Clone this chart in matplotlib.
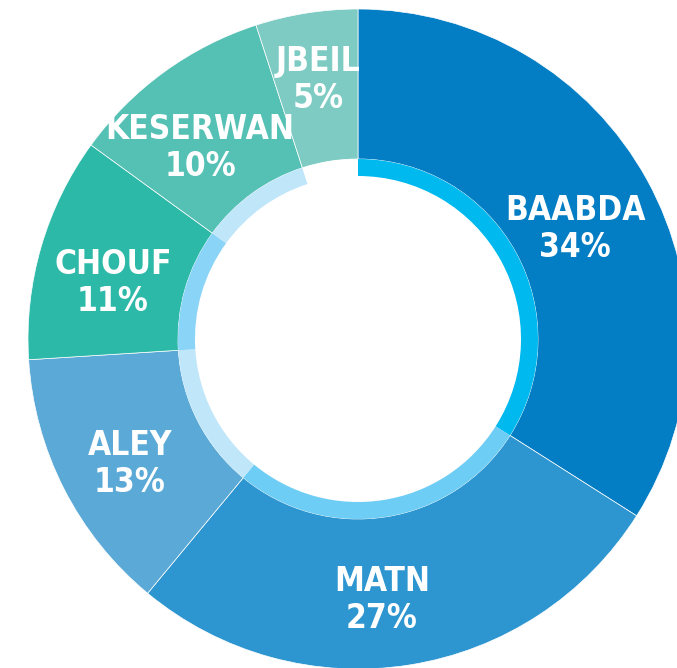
import matplotlib.pyplot as plt

# shares per district (%)
districts = ["BAABDA", "MATN", "ALEY", "CHOUF", "KESERWAN", "JBEIL"]
shares = [34, 27, 13, 11, 10, 5]
outer_colors = ["#037dc3", "#2d95cf", "#5aa9d6", "#2db9a8", "#55c0b4", "#7ecbc3"]
# thin inner ring, no piece under JBEIL
inner_colors = ["#00b9ef", "#6dcdf5", "#c0e6fa", "#8ad4f7", "#c0e6fa", "white"]

# label centres in pixels from the top-left corner
label_px = [(575, 229), (382, 600), (130, 464), (113, 283), (200, 148), (318, 80)]

W, H = 677, 668
CX, CY = 358, 339   # donut centre in pixels
R = 330.0           # outer radius in pixels

fig = plt.figure(figsize=(W / 100, H / 100), dpi=100)
ax = fig.add_axes([0, 0, 1, 1])

wedges, _ = ax.pie(shares, radius=1.0, startangle=90, counterclock=False,
                   colors=outer_colors,
                   wedgeprops=dict(width=150 / R, edgecolor="white", linewidth=0.5))
ax.pie(shares, radius=180 / R, startangle=90, counterclock=False,
       colors=inner_colors,
       wedgeprops=dict(width=17 / R, edgecolor="none"))

for (px, py), name, s in zip(label_px, districts, shares):
    ax.text((px - CX) / R, (CY - py) / R, f"{name}\n{s}%",
            ha="center", va="center", color="white", fontsize=24,
            fontweight="bold", fontstretch="condensed", linespacing=1.15,
            family="DejaVu Sans")

ax.set_xlim(-CX / R, (W - CX) / R)
ax.set_ylim(-(H - CY) / R, CY / R)
ax.set_aspect("auto")
ax.axis("off")

fig.savefig("out.png", dpi=100)
